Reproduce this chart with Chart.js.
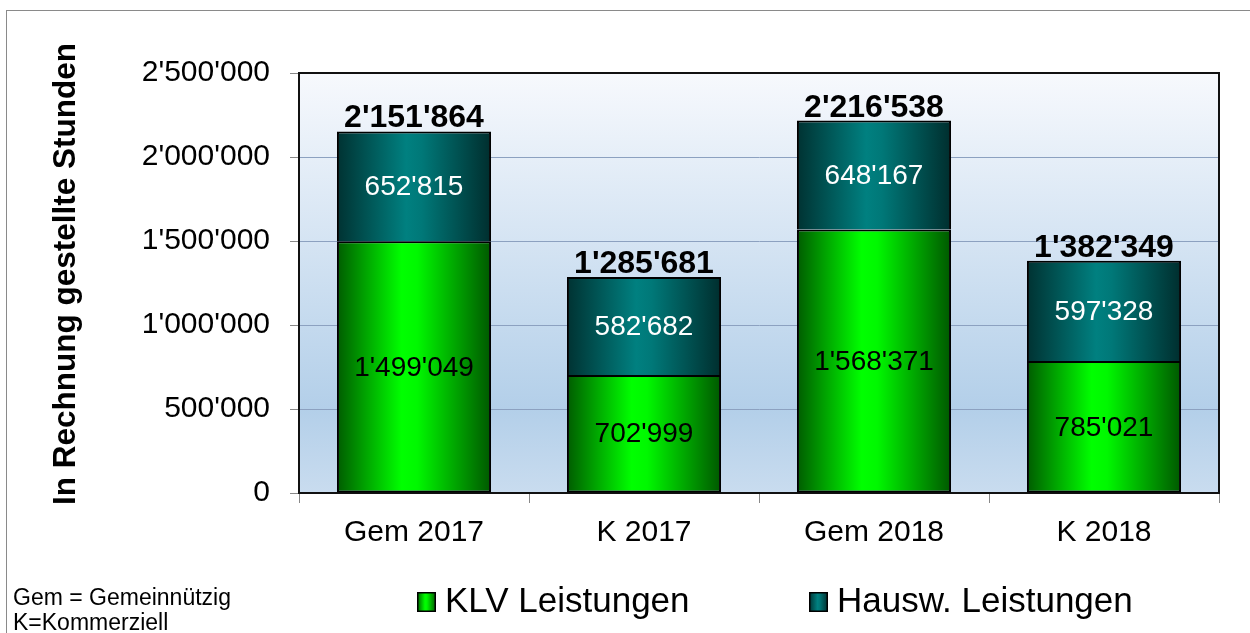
<!DOCTYPE html>
<html>
<head>
<meta charset="utf-8">
<script src="https://cdn.jsdelivr.net/npm/chart.js@4.4.0/dist/chart.umd.min.js"></script>
<style>
  body { margin: 0; background: #fff; }
  #wrap { width: 1250px; height: 633px; }
</style>
</head>
<body>
<div id="wrap"><canvas id="stundenChart" width="1250" height="633"></canvas></div>
<script>
const categories = ['Gem 2017', 'K 2017', 'Gem 2018', 'K 2018'];
const klvValues = [1499049, 702999, 1568371, 785021];
const hauswValues = [652815, 582682, 648167, 597328];
const totals = [2151864, 1285681, 2216538, 1382349];
const seriesLabels = ['KLV Leistungen', 'Hausw. Leistungen'];
const yTitle = 'In Rechnung gestellte Stunden';
const noteLines = ['Gem = Gemeinnützig', 'K=Kommerziell'];

const FONT = "'Liberation Sans', Arial, sans-serif";
const BAR_PCT = 0.67;

const greenStops = [[0, '#005c00'], [0.42, '#00ff00'], [0.52, '#00f800'], [1, '#005800']];
const tealStops = [[0, '#003232'], [0.45, '#008080'], [0.55, '#007878'], [1, '#002e2e']];

function fmt(v) {
    return String(v).replace(/\B(?=(\d{3})+(?!\d))/g, "'");
}

function barGradient(context, stops) {
    const chart = context.chart;
    const xScale = chart.scales.x;
    if (context.type !== 'data' || !xScale || !chart.chartArea) {
        return stops[1][1];
    }
    const cx = xScale.getPixelForValue(context.dataIndex);
    const half = (xScale.width / categories.length) * BAR_PCT / 2;
    const g = chart.ctx.createLinearGradient(cx - half, 0, cx + half, 0);
    stops.forEach(s => g.addColorStop(s[0], s[1]));
    return g;
}

const backgroundPlugin = {
    id: 'plotBackground',
    beforeDraw(chart) {
        const {ctx, chartArea: a} = chart;
        ctx.save();
        ctx.fillStyle = '#fff';
        ctx.fillRect(0, 0, chart.width, chart.height);
        const g = ctx.createLinearGradient(0, a.top, 0, a.bottom);
        g.addColorStop(0, '#f7f9fd');
        g.addColorStop(0.8, '#b3cfe9');
        g.addColorStop(1, '#c9dcef');
        ctx.fillStyle = g;
        ctx.fillRect(a.left, a.top, a.right - a.left, a.bottom - a.top);
        // outer frame
        ctx.strokeStyle = '#8a8a8a';
        ctx.lineWidth = 1;
        ctx.strokeRect(6.5, 10.5, chart.width + 20, chart.height + 20);
        ctx.restore();
    },
    beforeDatasetsDraw(chart) {
        const {ctx, chartArea: a} = chart;
        ctx.save();
        ctx.strokeStyle = '#111';
        ctx.lineWidth = 2;
        ctx.strokeRect(a.left, a.top, a.right - a.left, a.bottom - a.top);
        ctx.restore();
    }
};

const labelPlugin = {
    id: 'valueLabels',
    afterDatasetsDraw(chart) {
        const ctx = chart.ctx;
        ctx.save();
        ctx.textAlign = 'center';
        const colors = ['#000', '#fff'];
        chart.data.datasets.forEach((ds, di) => {
            const meta = chart.getDatasetMeta(di);
            ctx.font = '28px ' + FONT;
            ctx.fillStyle = colors[di];
            ctx.textBaseline = 'middle';
            meta.data.forEach((bar, i) => {
                ctx.fillText(fmt(ds.data[i]), bar.x, (bar.y + bar.base) / 2 + 1);
            });
        });
        const top = chart.getDatasetMeta(chart.data.datasets.length - 1);
        ctx.font = 'bold 32px ' + FONT;
        ctx.fillStyle = '#000';
        ctx.textBaseline = 'alphabetic';
        top.data.forEach((bar, i) => {
            ctx.fillText(fmt(totals[i]), bar.x, bar.y - 4);
        });
        ctx.restore();
    }
};

const legendPlugin = {
    id: 'customLegend',
    afterDraw(chart) {
        const ctx = chart.ctx;
        ctx.save();
        const starts = [417, 809];
        const stops = [greenStops, tealStops];
        chart.data.datasets.forEach((ds, di) => {
            const x = starts[di];
            const g = ctx.createLinearGradient(x, 0, x + 19, 0);
            stops[di].forEach(s => g.addColorStop(s[0], s[1]));
            ctx.fillStyle = g;
            ctx.fillRect(x, 592, 19, 20);
            ctx.strokeStyle = '#000';
            ctx.lineWidth = 1.5;
            ctx.strokeRect(x + 0.75, 592.75, 17.5, 18.5);
            ctx.fillStyle = '#000';
            ctx.font = '35px ' + FONT;
            ctx.textAlign = 'left';
            ctx.textBaseline = 'alphabetic';
            ctx.fillText(ds.label, x + 28, 612);
        });
        ctx.font = '23px ' + FONT;
        noteLines.forEach((line, i) => {
            ctx.fillText(line, 13, 605 + i * 25);
        });
        // y axis title
        ctx.translate(75, 274);
        ctx.rotate(-Math.PI / 2);
        ctx.font = 'bold 31.5px ' + FONT;
        ctx.textAlign = 'center';
        ctx.fillText(yTitle, 0, 0);
        ctx.restore();
    }
};

const chartCtx = document.getElementById('stundenChart');
new Chart(chartCtx, {
    type: 'bar',
    data: {
        labels: categories,
        datasets: [{
            label: seriesLabels[0],
            data: klvValues,
            backgroundColor: c => barGradient(c, greenStops),
            borderColor: '#000',
            borderWidth: 2,
            borderSkipped: false
        }, {
            label: seriesLabels[1],
            data: hauswValues,
            backgroundColor: c => barGradient(c, tealStops),
            borderColor: '#000',
            borderWidth: 2,
            borderSkipped: 'start'
        }]
    },
    options: {
        responsive: false,
        animation: false,
        devicePixelRatio: 1,
        layout: {
            padding: { top: 73, right: 31, left: 0, bottom: 0 }
        },
        datasets: {
            bar: { categoryPercentage: 1, barPercentage: BAR_PCT }
        },
        plugins: {
            legend: { display: false },
            tooltip: { enabled: false }
        },
        scales: {
            x: {
                stacked: true,
                afterFit: s => { s.height = 140; },
                border: { color: '#111', width: 2 },
                grid: {
                    drawOnChartArea: false,
                    drawTicks: true,
                    tickLength: 10,
                    tickColor: '#888',
                    offset: true
                },
                ticks: {
                    color: '#000',
                    padding: 12,
                    font: { family: FONT, size: 30 }
                }
            },
            y: {
                stacked: true,
                min: 0,
                max: 2500000,
                afterFit: s => { s.width = 299; },
                border: { color: '#111', width: 2 },
                grid: {
                    color: '#8ca1c0',
                    lineWidth: 1,
                    tickLength: 9,
                    tickColor: '#888'
                },
                ticks: {
                    stepSize: 500000,
                    color: '#000',
                    padding: 20,
                    font: { family: FONT, size: 30 },
                    callback: v => fmt(v)
                }
            }
        }
    },
    plugins: [backgroundPlugin, labelPlugin, legendPlugin]
});
</script>
</body>
</html>
